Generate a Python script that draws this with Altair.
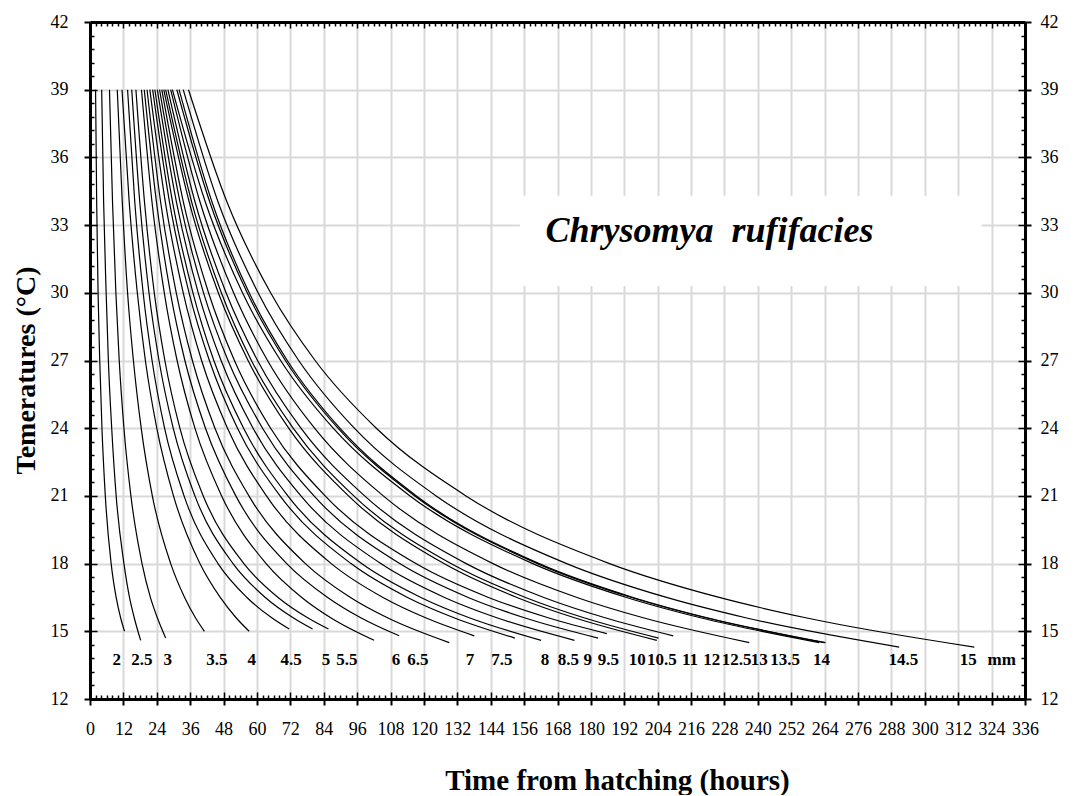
import altair as alt
import pandas as pd

FONT = "Liberation Serif"
W, H = 935, 677

# ---- data -----------------------------------------------------------------
# temperatures (°C) at which each isomegalen curve was read; the last point of
# every curve is its own end temperature (end_temps)
temps_read = [39, 34, 30, 27, 24, 21, 18, 16.5, 15.6]

curve_names = ["2", "2.5", "3", "3.5", "4", "4.5", "5", "5.5", "6", "6.5", "7",
               "7.5", "8", "8.5", "9", "9.5", "10", "10.5", "11", "12", "12.5",
               "13", "13.5", "14", "14.5", "15"]

end_temps = [15.0, 14.6, 14.7, 15.0, 15.0, 15.1, 15.1, 15.1, 14.6, 14.8, 14.5,
             14.8, 14.7, 14.6, 14.6, 14.7, 14.9, 14.6, 14.7, 14.8, 14.5, 14.5,
             14.5, 14.5, 14.3, 14.3]

# hours from hatching at temps_read + end temperature
h_2 = [2.0, 2.4, 2.9, 3.5, 4.3, 5.5, 7.6, 9.4, 11.0, 12.4]
h_2_5 = [4.2, 4.9, 5.8, 6.6, 7.8, 9.4, 12.2, 14.2, 15.9, 18.2]
h_3 = [7.0, 8.1, 9.3, 10.5, 12.2, 14.7, 18.7, 21.7, 24.2, 27.2]
h_3_5 = [9.8, 11.6, 13.5, 15.6, 18.4, 22.4, 29.0, 34.0, 37.9, 41.1]
h_4 = [11.5, 14.1, 17.0, 19.9, 24.0, 30.0, 39.5, 46.8, 52.5, 57.2]
h_4_5 = [13.5, 16.1, 19.1, 22.3, 26.8, 33.8, 46.0, 56.4, 65.3, 71.6]
h_5 = [15.0, 17.9, 21.2, 24.8, 29.9, 37.7, 51.4, 63.0, 73.0, 80.0]
h_5_5 = [16.5, 19.6, 23.1, 26.9, 32.3, 40.7, 55.3, 67.6, 78.2, 85.7]
h_6 = [18.5, 22.3, 26.7, 31.3, 37.7, 47.3, 63.3, 76.1, 86.5, 102.1]
h_6_5 = [19.5, 23.9, 28.9, 34.1, 41.5, 52.4, 70.7, 85.4, 97.3, 111.1]
h_7 = [20.5, 25.4, 31.0, 36.8, 44.9, 57.1, 77.4, 93.6, 106.9, 129.1]
h_7_5 = [21.5, 27.1, 33.5, 40.1, 49.4, 63.4, 86.7, 105.3, 120.6, 138.1]
h_8 = [22.5, 28.6, 35.6, 42.9, 53.0, 68.3, 93.8, 114.1, 130.8, 152.7]
h_8_5 = [23.3, 29.7, 37.0, 44.5, 55.2, 71.1, 97.6, 118.9, 136.3, 162.1]
h_9 = [24.2, 31.1, 38.9, 47.1, 58.6, 75.8, 104.5, 127.4, 146.2, 174.1]
h_9_5 = [25.0, 32.4, 40.8, 49.6, 62.0, 80.5, 111.3, 135.9, 156.1, 182.6]
h_10 = [25.8, 33.6, 42.6, 51.9, 64.9, 84.5, 117.1, 143.2, 164.6, 185.7]
h_10_5 = [26.5, 35.7, 46.1, 56.8, 71.4, 92.9, 127.2, 153.4, 174.1, 203.7]
h_11 = [27.2, 36.6, 47.2, 58.0, 73.0, 94.8, 129.7, 156.5, 177.5, 204.3]
h_12 = [28.0, 37.8, 48.9, 60.2, 75.8, 98.7, 135.2, 163.1, 185.1, 209.6]
h_12_5 = [29.0, 39.6, 51.6, 63.8, 80.7, 105.4, 144.8, 175.0, 198.8, 236.9]
h_13 = [29.6, 41.5, 54.8, 68.5, 87.4, 115.0, 159.1, 192.8, 219.4, 262.0]
h_13_5 = [31.2, 43.1, 56.5, 70.2, 89.1, 116.7, 160.8, 194.6, 221.3, 263.9]
h_14 = [32.0, 43.9, 57.2, 70.9, 89.8, 117.3, 161.4, 195.2, 221.8, 264.3]
h_14_5 = [33.5, 46.1, 60.4, 75.0, 95.0, 124.4, 171.3, 207.2, 235.6, 290.8]
h_15 = [35.4, 49.3, 64.9, 80.9, 102.9, 135.1, 186.7, 226.1, 257.2, 317.8]

curve_hours = [h_2, h_2_5, h_3, h_3_5, h_4, h_4_5, h_5, h_5_5, h_6, h_6_5, h_7,
               h_7_5, h_8, h_8_5, h_9, h_9_5, h_10, h_10_5, h_11, h_12, h_12_5,
               h_13, h_13_5, h_14, h_14_5, h_15]

# end labels (mm) along the bottom
label_text = ["2", "2.5", "3", "3.5", "4", "4.5", "5", "5.5", "6", "6.5", "7",
              "7.5", "8", "8.5", "9", "9.5", "10", "10.5", "11", "12", "12.5",
              "13", "13.5", "14", "14.5", "15", "mm"]
label_hours = [9.6, 18.6, 27.9, 45.6, 58.1, 72.3, 84.8, 92.3, 110.0, 117.8,
               136.6, 148.0, 163.5, 171.9, 178.9, 186.3, 196.7, 205.5, 215.6,
               223.4, 232.4, 240.5, 249.8, 262.9, 292.3, 315.6, 327.6]
label_temp = 13.75

species = "Chrysomya\u00a0 rufifacies"
species_hours = 222.6
species_temp = 32.26
# white panel behind the species name
box_hours = [154.5, 320.4]
box_temps = [30.3, 34.3]

x_ticks = list(range(0, 337, 2))
y_ticks = [round(12 + 0.6 * k, 1) for k in range(51)]

# ---- tables ----------------------------------------------------------------
rows = []
for name, hrs, te in zip(curve_names, curve_hours, end_temps):
    for t, h in zip(temps_read + [te], hrs):
        rows.append({"curve": name, "hours": h, "temp": t})
curves_df = pd.DataFrame(rows)

labels_df = pd.DataFrame({"text": label_text, "hours": label_hours,
                          "temp": [label_temp] * len(label_text)})
title_df = pd.DataFrame({"text": [species], "hours": [species_hours],
                         "temp": [species_temp]})
box_df = pd.DataFrame({"x0": [box_hours[0]], "x1": [box_hours[1]],
                       "y0": [box_temps[0]], "y1": [box_temps[1]]})

# ---- scales & axes ---------------------------------------------------------
xs = alt.Scale(domain=[0, 336], nice=False, zero=False)
ys = alt.Scale(domain=[12, 42], nice=False, zero=False)

XMAJ = "datum.value % 12 === 0"
YMAJ = "abs(datum.value / 3 - round(datum.value / 3)) < 0.01"


def cond(test, a, b):
    return {"condition": {"test": test, "value": a}, "value": b}


common_lab = dict(labelFont=FONT, labelFontSize=18, labelColor="black",
                  labelOverlap=False, labelFlush=False)

ax_bottom = alt.Axis(
    orient="bottom", values=x_ticks, title="Time from hatching (hours)",
    titleFont=FONT, titleFontSize=29, titleFontWeight="bold", titleColor="black",
    titleX=527, titleY=81, titleAlign="center", titleBaseline="middle",
    labelPadding=15, labelExpr=f"({XMAJ}) ? format(datum.value, 'd') : ''",
    domain=True, domainColor="black", domainWidth=3,
    ticks=True, tickColor="black", tickWidth=2, tickSize=cond(XMAJ, 6, 0),
    grid=True, gridColor="#d9d9d9", gridWidth=2, gridOpacity=cond(XMAJ, 1, 0),
    **common_lab)
ax_bottom_in = alt.Axis(
    orient="top", offset=-H, values=x_ticks, labels=False, domain=False,
    grid=False, title=None, ticks=True, tickColor="black", tickWidth=1.5,
    tickSize=cond(XMAJ, 7, 4))
ax_top = alt.Axis(
    orient="bottom", offset=-H, values=x_ticks, labels=False, domain=True,
    domainColor="black", domainWidth=3, grid=False, title=None, ticks=True,
    tickColor="black", tickWidth=1.5, tickSize=cond(XMAJ, 6, 4))

ax_left = alt.Axis(
    orient="left", values=y_ticks, title="Temeratures (°C)",
    titleFont=FONT, titleFontSize=28, titleFontWeight="bold", titleColor="black",
    titleX=-64, titleY=348, titleAngle=270, titleAlign="center",
    titleBaseline="middle",
    labelPadding=16, labelExpr=f"({YMAJ}) ? format(datum.value, 'd') : ''",
    domain=True, domainColor="black", domainWidth=3,
    ticks=True, tickColor="black", tickWidth=2, tickSize=cond(YMAJ, 6, 0),
    grid=True, gridColor="#d9d9d9", gridWidth=2, gridOpacity=cond(YMAJ, 1, 0),
    **common_lab)
ax_left_in = alt.Axis(
    orient="right", offset=-W, values=y_ticks, labels=False, domain=False,
    grid=False, title=None, ticks=True, tickColor="black", tickWidth=1.5,
    tickSize=cond(YMAJ, 7, 4))
ax_right = alt.Axis(
    orient="right", values=y_ticks, title=None, labelPadding=9,
    labelExpr=f"({YMAJ}) ? format(datum.value, 'd') : ''",
    domain=True, domainColor="black", domainWidth=3,
    ticks=True, tickColor="black", tickWidth=2, tickSize=cond(YMAJ, 6, 0),
    grid=False, **common_lab)
ax_right_in = alt.Axis(
    orient="left", offset=-W, values=y_ticks, labels=False, domain=False,
    grid=False, title=None, ticks=True, tickColor="black", tickWidth=1.5,
    tickSize=cond(YMAJ, 7, 4))

# ---- layers ----------------------------------------------------------------
box = alt.Chart(box_df).mark_rect(color="white").encode(
    x=alt.X("x0:Q", scale=xs, axis=ax_bottom), x2="x1:Q",
    y=alt.Y("y0:Q", scale=ys, axis=ax_left), y2="y1:Q")

lines = alt.Chart(curves_df).mark_line(
    color="black", strokeWidth=1.2, interpolate="monotone").encode(
    x=alt.X("hours:Q", scale=xs, axis=ax_bottom_in),
    y=alt.Y("temp:Q", scale=ys, axis=ax_left_in),
    detail="curve:N", order="hours:Q")

labels = alt.Chart(labels_df).mark_text(
    font=FONT, fontSize=17, fontWeight="bold", color="black",
    align="center", baseline="middle").encode(
    x=alt.X("hours:Q", scale=xs, axis=ax_top),
    y=alt.Y("temp:Q", scale=ys, axis=ax_right),
    text="text:N")

title = alt.Chart(title_df).mark_text(
    font=FONT, fontSize=36, fontWeight="bold", fontStyle="italic",
    color="black", align="center", baseline="alphabetic").encode(
    x=alt.X("hours:Q", scale=xs, axis=None),
    y=alt.Y("temp:Q", scale=ys, axis=ax_right_in),
    text="text:N")

chart = alt.layer(box, lines, labels, title).resolve_axis(
    x="independent", y="independent").properties(
    width=W, height=H,
    padding={"left": 82, "top": 14, "right": 44, "bottom": 96},
    autosize=alt.AutoSizeParams(type="none"),
    background="white").configure_view(stroke=None)

chart.save("out.html", embed_options={"renderer": "svg", "actions": False})
